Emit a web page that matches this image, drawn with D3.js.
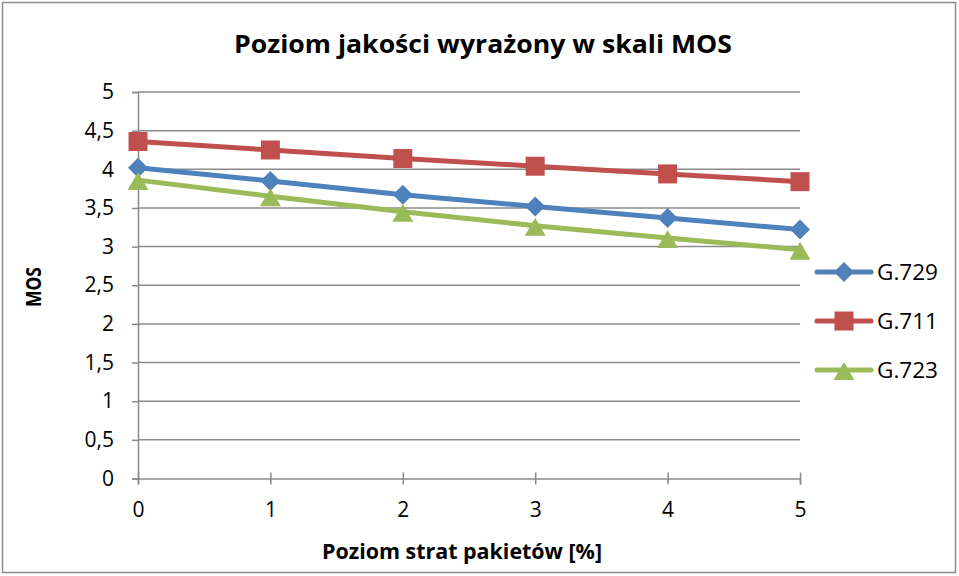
<!DOCTYPE html>
<html><head><meta charset="utf-8">
<script src="https://cdn.jsdelivr.net/npm/d3@7"></script>
<style>body{margin:0;background:#fff}svg{display:block;font-family:"Open Sans",sans-serif}</style>
</head><body><svg id="c" width="959" height="576"></svg>
<script>
const xValues = [0, 1, 2, 3, 4, 5];
const seriesNames = ["G.729", "G.711", "G.723"];
const g729 = [4.02, 3.85, 3.67, 3.52, 3.37, 3.22];
const g711 = [4.36, 4.25, 4.14, 4.04, 3.94, 3.84];
const g723 = [3.86, 3.65, 3.45, 3.27, 3.11, 2.96];
const yTicks = [0, 0.5, 1, 1.5, 2, 2.5, 3, 3.5, 4, 4.5, 5];
const colors = ["#4F81BD", "#C0504D", "#9BBB59"];
const series = [g729, g711, g723];

const svg = d3.select("#c");
svg.append("rect").attr("x",2.5).attr("y",2.5).attr("width",953).attr("height",570)
  .attr("fill","#fff").attr("stroke","#8c8c8c").attr("stroke-width",1.5);

const x = d3.scaleLinear().domain([0,5]).range([138,800]);
const y = d3.scaleLinear().domain([0,5]).range([478.5,92]);

svg.append("g").selectAll("line").data(yTicks.filter(t=>t>0)).join("line")
  .attr("x1",x(0)).attr("x2",x(5)).attr("y1",d=>y(d)).attr("y2",d=>y(d))
  .attr("stroke","#8a8a8a").attr("stroke-width",1.5);

const fmt = d => String(d).replace(".", ",");
const yAxis = svg.append("g").attr("transform",`translate(${x(0)},0)`)
  .call(d3.axisLeft(y).tickValues(yTicks).tickFormat(fmt).tickSize(6).tickPadding(18));
const xAxis = svg.append("g").attr("transform",`translate(0,${y(0)})`)
  .call(d3.axisBottom(x).tickValues(xValues).tickFormat(d=>d).tickSize(6).tickPadding(18));
[yAxis,xAxis].forEach(a=>{
  a.select(".domain").attr("stroke","#8a8a8a").attr("stroke-width",1.5);
  a.selectAll(".tick line").attr("stroke","#8a8a8a").attr("stroke-width",1.5);
  a.selectAll("text").attr("font-size",21).attr("fill","#000").attr("font-family","'Open Sans',sans-serif");
});
xAxis.selectAll(".tick line").attr("y1",-6).attr("y2",6);

function marker(k){
  if(k===0) return "M0,-10L10,0L0,10L-10,0Z";
  if(k===1) return "M-9.5,-9.5H9.5V9.5H-9.5Z";
  return "M0,-9L10.5,9H-10.5Z";
}
const line = d3.line().x((d,i)=>x(xValues[i])).y(d=>y(d));
series.forEach((s,k)=>{
  svg.append("path").datum(s).attr("d",line).attr("fill","none")
    .attr("stroke",colors[k]).attr("stroke-width",5).attr("stroke-linejoin","round");
  svg.append("g").selectAll("path").data(s).join("path")
    .attr("d",marker(k))
    .attr("transform",(d,i)=>`translate(${x(xValues[i])},${y(d)+(k===2?1:0)})`)
    .attr("fill",colors[k]);
});

const leg = svg.append("g");
seriesNames.forEach((n,k)=>{
  const ly = 272 + k*49;
  leg.append("line").attr("x1",817).attr("x2",871).attr("y1",ly).attr("y2",ly)
    .attr("stroke",colors[k]).attr("stroke-width",5).attr("stroke-linecap","round");
  leg.append("path").attr("d",marker(k))
    .attr("transform",`translate(844,${ly+(k===2?1:0)})`).attr("fill",colors[k]);
  leg.append("text").attr("x",877).attr("y",ly).attr("dy","0.36em")
    .attr("font-size",22).attr("textLength",61).attr("lengthAdjust","spacingAndGlyphs").text(n);
});

svg.append("text").attr("x",483).attr("y",44).attr("dy","0.36em").attr("text-anchor","middle")
  .attr("font-size",25).attr("font-weight","bold")
  .attr("textLength",498).attr("lengthAdjust","spacingAndGlyphs")
  .text("Poziom jakości wyrażony w skali MOS");
svg.append("text").attr("x",462).attr("y",551).attr("dy","0.36em").attr("text-anchor","middle")
  .attr("font-size",21).attr("font-weight","bold")
  .attr("textLength",280).attr("lengthAdjust","spacingAndGlyphs")
  .text("Poziom strat pakietów [%]");
svg.append("text").attr("transform","translate(33,287) rotate(-90)").attr("dy","0.36em")
  .attr("text-anchor","middle").attr("font-size",21).attr("font-weight","bold")
  .attr("textLength",40).attr("lengthAdjust","spacingAndGlyphs").text("MOS");
</script></body></html>
